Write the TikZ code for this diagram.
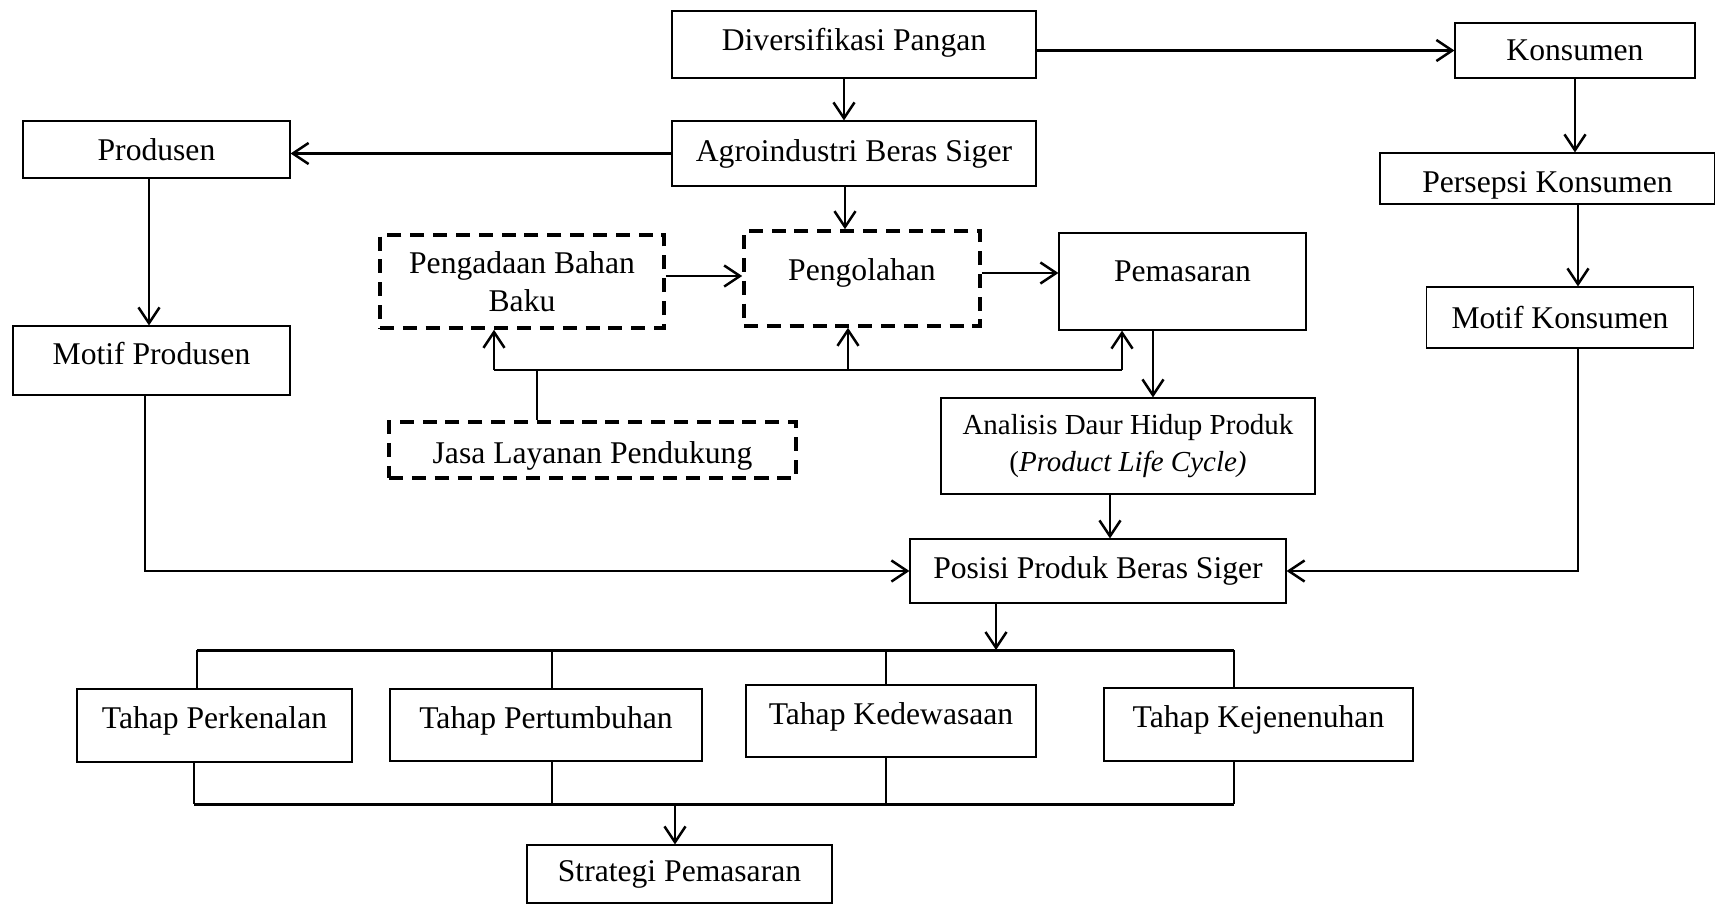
\documentclass[tikz,border=0pt]{standalone}
\usepackage{fontspec}
\setmainfont{Liberation Serif}
\usetikzlibrary{arrows.meta}

\tikzset{
  box/.style={draw, line width=0.7pt, inner sep=2pt, align=center},
  dbox/.style={draw, line width=2.1pt, dash pattern=on 8pt off 5pt, inner sep=2pt, align=center},
  textup/.style={text depth=#1},
  textdown/.style={text height=#1},
  conn/.style={line width=1.4pt},
  arr/.style={conn, -{Straight Barb[length=9pt,width=12pt]}},
  bus/.style={line width=1.7pt},
  drop/.style={line width=0.7pt}
}

\begin{document}
\begin{tikzpicture}[x=0.02cm, y=-0.02cm, font=\fontsize{18}{21.6}\selectfont]

\useasboundingbox (0,0) rectangle (1715,904);

% top row
\node[box, textup=6pt, minimum width=7.28cm, minimum height=1.34cm] (div) at (854,44.5) {Diversifikasi Pangan};
\node[box, minimum width=4.8cm, minimum height=1.1cm] (kons) at (1575,50.5) {Konsumen};
\node[box, minimum width=7.28cm, minimum height=1.3cm] (agro) at (854,153.5) {Agroindustri Beras Siger};
\node[box, minimum width=5.34cm, minimum height=1.14cm] (prod) at (156.5,149.5) {Produsen};
\node[box, textdown=20pt, minimum width=6.7cm, minimum height=1.02cm] (pers) at (1547.5,178.5) {Persepsi Konsumen};

% middle
\node[dbox, minimum width=5.68cm, minimum height=1.86cm] (penga) at (522,281.5) {Pengadaan Bahan\\Baku};
\node[dbox, textup=10pt, minimum width=4.72cm, minimum height=1.9cm] (pengol) at (862,278.5) {Pengolahan};
\node[box, textup=12pt, minimum width=4.94cm, minimum height=1.94cm] (pemas) at (1182.5,281.5) {Pemasaran};
\node[box, minimum width=5.34cm, minimum height=1.22cm] (motk) at (1560,317.5) {Motif Konsumen};
\node[box, textup=8pt, minimum width=5.54cm, minimum height=1.38cm] (motp) at (151.5,360.5) {Motif Produsen};
\node[box, minimum width=7.48cm, minimum height=1.92cm, font=\fontsize{16.5}{21}\selectfont] (anal) at (1128,446) {Analisis Daur Hidup Produk\\(\textit{Product Life Cycle)}};
\node[dbox, textdown=19pt, minimum width=8.14cm, minimum height=1.12cm] (jasa) at (592.5,450) {Jasa Layanan Pendukung};
\node[box, minimum width=7.52cm, minimum height=1.28cm] (pos) at (1098,571) {Posisi Produk Beras Siger};

% stages
\node[box, textup=9pt, minimum width=5.5cm, minimum height=1.46cm] (t1) at (214.5,725.5) {Tahap Perkenalan};
\node[box, textup=9pt, minimum width=6.24cm, minimum height=1.44cm] (t2) at (546,725) {Tahap Pertumbuhan};
\node[box, textup=9pt, minimum width=5.8cm, minimum height=1.44cm] (t3) at (891,721) {Tahap Kedewasaan};
\node[box, textup=9pt, minimum width=6.18cm, minimum height=1.46cm] (t4) at (1258.5,724.5) {Tahap Kejenenuhan};
\node[box, minimum width=6.1cm, minimum height=1.16cm] (strat) at (679.5,874) {Strategi Pemasaran};

% junctions
\coordinate (jb) at (537,370);
\coordinate (tb) at (996,650);
\coordinate (bb) at (675,804);

\draw[arr] (div.east |- kons.west) -- (kons.west);
\draw[arr] (div.south -| 844,0) -- (agro.north -| 844,0);
\draw[arr] (agro.west) -- (agro.west -| prod.east);
\draw[arr] (agro.south -| 845,0) -- (pengol.north -| 845,0);
\draw[arr] (penga.east |- 0,276) -- (pengol.west |- 0,276);
\draw[arr] (pengol.east |- 0,273) -- (pemas.west |- 0,273);

\draw[conn] (jasa.north -| jb) -- (jb);
\draw[conn] (jb -| 494,0) -- (jb -| 1122,0);
\draw[arr] (jb -| 494,0) -- (penga.south -| 494,0);
\draw[arr] (jb -| 848,0) -- (pengol.south -| 848,0);
\draw[arr] (jb -| 1122,0) -- (pemas.south -| 1122,0);

\draw[arr] (pemas.south -| 1153,0) -- (anal.north -| 1153,0);
\draw[arr] (anal.south -| 1110,0) -- (pos.north -| 1110,0);

\draw[arr] (prod.south -| 149,0) -- (motp.north -| 149,0);
\draw[arr] (motp.south -| 145,0) |- (pos.west);
\draw[arr] (kons.south) -- (pers.north -| kons.south);
\draw[arr] (pers.south -| 1578,0) -- (motk.north -| 1578,0);
\draw[arr] (motk.south -| 1578,0) |- (pos.east);

\draw[arr] (pos.south -| tb) -- (tb);
\draw[bus] (tb -| 197,0) -- (tb -| 1234,0);
\draw[drop] (tb -| 197,0) -- (t1.north -| 197,0);
\draw[drop] (tb -| 552,0) -- (t2.north -| 552,0);
\draw[drop] (tb -| 886,0) -- (t3.north -| 886,0);
\draw[drop] (tb -| 1234,0) -- (t4.north -| 1234,0);

\draw[bus] (bb -| 194,0) -- (bb -| 1234,0);
\draw[drop] (t1.south -| 194,0) -- (bb -| 194,0);
\draw[drop] (t2.south -| 552,0) -- (bb -| 552,0);
\draw[drop] (t3.south -| 886,0) -- (bb -| 886,0);
\draw[drop] (t4.south -| 1234,0) -- (bb -| 1234,0);
\draw[arr] (bb) -- (strat.north -| bb);

\end{tikzpicture}
\end{document}
